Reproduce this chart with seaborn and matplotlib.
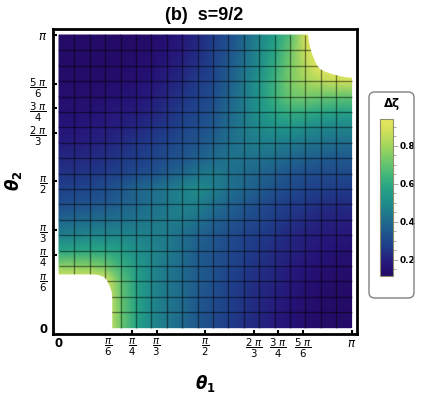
import numpy as np
import pandas as pd
import matplotlib
matplotlib.use("Agg")
import matplotlib.pyplot as plt
import seaborn as sns
from matplotlib.colors import LinearSegmentedColormap
from matplotlib.patches import FancyBboxPatch, Polygon
from matplotlib.ticker import MultipleLocator

# ---------------- data: Delta zeta on a 20x20 node grid --------------------
# theta1 = i*pi/19 (columns i = 0..19), one list per theta2 = j*pi/19 row
# (values inside the white, undefined corners hold the rim value)
dz_j19 = [0.12, 0.12, 0.12, 0.12, 0.12, 0.12, 0.13, 0.15, 0.18, 0.22, 0.27, 0.32, 0.39, 0.47, 0.56, 0.67, 0.89, 0.94, 0.94, 0.94]
dz_j18 = [0.12, 0.12, 0.12, 0.12, 0.12, 0.13, 0.14, 0.16, 0.19, 0.23, 0.28, 0.33, 0.40, 0.49, 0.58, 0.71, 0.87, 0.94, 0.94, 0.94]
dz_j17 = [0.12, 0.12, 0.12, 0.12, 0.13, 0.14, 0.15, 0.18, 0.21, 0.25, 0.29, 0.35, 0.42, 0.50, 0.61, 0.73, 0.84, 0.94, 0.94, 0.94]
dz_j16 = [0.13, 0.13, 0.13, 0.13, 0.14, 0.15, 0.17, 0.20, 0.23, 0.27, 0.30, 0.36, 0.44, 0.53, 0.63, 0.74, 0.80, 0.84, 0.87, 0.88]
dz_j15 = [0.14, 0.14, 0.14, 0.15, 0.16, 0.17, 0.19, 0.22, 0.25, 0.28, 0.32, 0.38, 0.45, 0.53, 0.63, 0.71, 0.73, 0.71, 0.70, 0.70]
dz_j14 = [0.15, 0.15, 0.16, 0.17, 0.18, 0.19, 0.21, 0.24, 0.27, 0.30, 0.33, 0.39, 0.45, 0.52, 0.58, 0.62, 0.61, 0.59, 0.57, 0.57]
dz_j13 = [0.17, 0.17, 0.18, 0.19, 0.20, 0.22, 0.24, 0.26, 0.29, 0.32, 0.35, 0.40, 0.45, 0.49, 0.52, 0.53, 0.51, 0.49, 0.48, 0.48]
dz_j12 = [0.19, 0.19, 0.20, 0.21, 0.23, 0.25, 0.27, 0.29, 0.32, 0.34, 0.37, 0.41, 0.44, 0.46, 0.46, 0.45, 0.43, 0.42, 0.41, 0.41]
dz_j11 = [0.22, 0.22, 0.23, 0.24, 0.26, 0.27, 0.29, 0.32, 0.34, 0.37, 0.40, 0.42, 0.42, 0.42, 0.41, 0.39, 0.37, 0.36, 0.35, 0.35]
dz_j10 = [0.25, 0.25, 0.26, 0.27, 0.29, 0.31, 0.33, 0.36, 0.39, 0.43, 0.45, 0.42, 0.40, 0.38, 0.36, 0.34, 0.32, 0.31, 0.31, 0.31]
dz_j09 = [0.28, 0.29, 0.30, 0.32, 0.35, 0.38, 0.41, 0.44, 0.47, 0.50, 0.46, 0.42, 0.39, 0.36, 0.33, 0.31, 0.29, 0.28, 0.27, 0.27]
dz_j08 = [0.32, 0.33, 0.34, 0.35, 0.37, 0.39, 0.42, 0.44, 0.47, 0.46, 0.42, 0.38, 0.35, 0.32, 0.29, 0.27, 0.26, 0.24, 0.23, 0.23]
dz_j07 = [0.38, 0.39, 0.40, 0.41, 0.42, 0.43, 0.44, 0.45, 0.45, 0.42, 0.38, 0.35, 0.32, 0.30, 0.27, 0.25, 0.23, 0.21, 0.20, 0.20]
dz_j06 = [0.46, 0.47, 0.48, 0.48, 0.48, 0.47, 0.46, 0.45, 0.41, 0.38, 0.35, 0.32, 0.29, 0.27, 0.25, 0.22, 0.20, 0.19, 0.18, 0.17]
dz_j05 = [0.58, 0.59, 0.59, 0.59, 0.56, 0.51, 0.48, 0.45, 0.41, 0.36, 0.34, 0.31, 0.28, 0.26, 0.23, 0.21, 0.19, 0.17, 0.16, 0.15]
dz_j04 = [0.76, 0.76, 0.75, 0.72, 0.63, 0.55, 0.49, 0.44, 0.40, 0.36, 0.33, 0.30, 0.27, 0.24, 0.22, 0.19, 0.17, 0.15, 0.14, 0.14]
dz_j03 = [0.94, 0.94, 0.94, 0.94, 0.70, 0.57, 0.49, 0.44, 0.40, 0.36, 0.33, 0.29, 0.26, 0.23, 0.21, 0.18, 0.16, 0.14, 0.13, 0.13]
dz_j02 = [0.94, 0.94, 0.94, 0.94, 0.71, 0.58, 0.49, 0.44, 0.40, 0.35, 0.32, 0.28, 0.25, 0.22, 0.20, 0.17, 0.15, 0.13, 0.12, 0.12]
dz_j01 = [0.94, 0.94, 0.94, 0.94, 0.72, 0.58, 0.49, 0.44, 0.40, 0.35, 0.31, 0.28, 0.25, 0.22, 0.19, 0.16, 0.14, 0.13, 0.12, 0.12]
dz_j00 = [0.94, 0.94, 0.94, 0.94, 0.72, 0.58, 0.49, 0.44, 0.39, 0.35, 0.31, 0.27, 0.24, 0.21, 0.18, 0.16, 0.14, 0.13, 0.12, 0.12]

# boundaries of the undefined (white) corner regions, in units of pi
bl_theta1 = [-0.02, -0.02, 0.117, 0.134, 0.152, 0.163, 0.168, 0.174, 0.180, 0.182, 0.182, -0.02]
bl_theta2 = [-0.02, 0.182, 0.182, 0.180, 0.174, 0.163, 0.152, 0.140, 0.123, 0.100, -0.02, -0.02]
tr_theta1 = [0.849, 0.854, 0.859, 0.864, 0.873, 0.881, 0.892, 0.909, 0.932, 0.955, 0.977, 1.02, 1.02, 0.849]
tr_theta2 = [1.02, 0.977, 0.955, 0.937, 0.915, 0.898, 0.884, 0.875, 0.867, 0.861, 0.856, 0.852, 1.02, 1.02]

tick_theta = [0, 1/6, 1/4, 1/3, 1/2, 2/3, 3/4, 5/6, 1]
tick_text = ["0", r"$\dfrac{\pi}{6}$", r"$\dfrac{\pi}{4}$", r"$\dfrac{\pi}{3}$", r"$\dfrac{\pi}{2}$",
             r"$\dfrac{2\ \pi}{3}$", r"$\dfrac{3\ \pi}{4}$", r"$\dfrac{5\ \pi}{6}$", r"$\pi$"]
cbar_ticks = [0.2, 0.4, 0.6, 0.8]
z_min, z_max = 0.115, 0.94

# ---------------- style ----------------------------------------------------
sns.set_theme(style="white")
plt.rcParams["font.family"] = ["DejaVu Sans"]
plt.rcParams["mathtext.fontset"] = "dejavusans"
for key in ("text.color", "axes.labelcolor", "xtick.color", "ytick.color"):
    plt.rcParams[key] = "black"

cmap = LinearSegmentedColormap.from_list("bgy", [
    (0.00, "#240a66"), (0.07, "#26157a"), (0.13, "#232880"), (0.19, "#1f3d89"),
    (0.25, "#1f4e8c"), (0.31, "#1f608c"), (0.37, "#1f718c"), (0.43, "#1f828b"),
    (0.49, "#1f928a"), (0.57, "#27a585"), (0.65, "#45b77a"), (0.735, "#70c86b"),
    (0.83, "#a2d65c"), (0.93, "#d3e05a"), (1.00, "#e8e75e")])

rows = [dz_j19, dz_j18, dz_j17, dz_j16, dz_j15, dz_j14, dz_j13, dz_j12, dz_j11, dz_j10,
        dz_j09, dz_j08, dz_j07, dz_j06, dz_j05, dz_j04, dz_j03, dz_j02, dz_j01, dz_j00]
df = pd.DataFrame(rows)
nseg = df.shape[1] - 1  # 19 mesh cells

W, H = 422, 395
fig = plt.figure(figsize=(W / 100, H / 100), dpi=100)
ax = fig.add_axes([53 / W, 1 - 334 / H, 304 / W, 304.7 / H])
cax = fig.add_axes([380 / W, 1 - 276 / H, 13 / W, 157 / H])

sns.heatmap(df, ax=ax, cbar_ax=cax, cmap=cmap, vmin=z_min, vmax=z_max,
            shading="gouraud", xticklabels=False, yticklabels=False)

ax.set_xlim(-0.39, nseg + 0.35)
ax.set_ylim(nseg + 0.41, -0.37)

# mesh lines
ax.vlines(np.arange(1, nseg), 0, nseg, colors="black", alpha=0.45, lw=1.0, zorder=2)
ax.hlines(np.arange(1, nseg), 0, nseg, colors="black", alpha=0.45, lw=1.0, zorder=2)

# white undefined corners
for t1, t2 in ((bl_theta1, bl_theta2), (tr_theta1, tr_theta2)):
    xs = np.array(t1) * nseg
    ys = nseg - np.array(t2) * nseg
    ax.add_patch(Polygon(np.column_stack([xs, ys]), closed=True, fc="white",
                         ec="none", zorder=3))

# frame
for sp in ax.spines.values():
    sp.set_visible(True)
    sp.set_linewidth(2.0)
    sp.set_color("black")
    sp.set_zorder(5)

ax.set_xticks([t * nseg for t in tick_theta])
ax.set_xticklabels(tick_text)
ax.set_yticks([nseg - t * nseg for t in tick_theta])
ax.set_yticklabels(tick_text)
ax.tick_params(axis="x", which="major", direction="in", length=3, width=1.5, color="black",
               labelcolor="black", bottom=True, top=False, pad=2, labelsize=7.3)
ax.tick_params(axis="y", which="major", direction="in", length=3, width=1.5, color="black",
               labelcolor="black", left=True, right=False, pad=4, labelsize=7.3)
for lbl in ax.get_xticklabels() + ax.get_yticklabels():
    if lbl.get_text() in ("0", r"$\pi$"):
        lbl.set_fontsize(8.5)
        lbl.set_fontweight("bold")

# colorbar
cb = ax.collections[0].colorbar
cb.set_ticks(cbar_ticks)
cax.yaxis.set_minor_locator(MultipleLocator(0.05))
cax.tick_params(which="major", length=3.5, width=0.6, color="#999999", labelcolor="black",
                labelsize=6.5, pad=1.5, right=True)
cax.tick_params(which="minor", length=2.5, width=0.6, color="#999999", right=True)
for lbl in cax.get_yticklabels():
    lbl.set_fontweight("bold")
cb.outline.set_linewidth(0.8)
cb.outline.set_edgecolor("#8e8e6a")

fig.patches.append(FancyBboxPatch((369 / W, 1 - 298 / H), 45 / W, 206 / H,
                                  boxstyle="round,pad=0,rounding_size=0.014",
                                  transform=fig.transFigure, fc="none", ec="#808080", lw=1.0))
fig.text(392 / W, 1 - 103 / H, "Δζ", ha="center", va="center", fontsize=8.5,
         fontweight="bold", color="black")

fig.text(204 / W, 1 - 15 / H, "(b)  s=9/2", ha="center", va="center", fontsize=13,
         fontweight="bold", color="black", family=["Liberation Sans", "DejaVu Sans"])
fig.text(205 / W, 1 - 383 / H, r"$\mathbfit{\theta}_{\mathbf{1}}$", ha="center", va="center",
         fontsize=12, color="black")
fig.text(13 / W, 1 - 181 / H, r"$\mathbfit{\theta}_{\mathbf{2}}$", ha="center", va="center",
         fontsize=12, color="black", rotation=90)

fig.savefig("out.png", dpi=100)
